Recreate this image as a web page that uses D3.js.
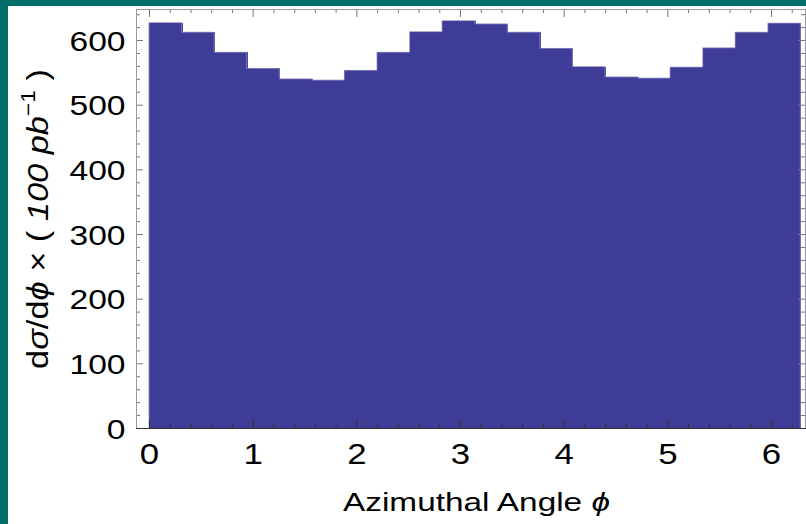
<!DOCTYPE html>
<html>
<head>
<meta charset="utf-8">
<script src="https://cdn.jsdelivr.net/npm/d3@7"></script>
<style>
  html, body { margin: 0; padding: 0; background: #fff; }
  svg { display: block; }
  text { font-family: "Liberation Sans", Arial, Helvetica, sans-serif; fill: #000; }
</style>
</head>
<body>
<svg id="chart" width="806" height="524"></svg>
<script>
// Azimuthal distribution, 20 equal bins spanning 0 .. 2π
const binCount = 20;
const binValues = [627, 612, 581, 556, 540, 538, 553, 581, 613, 630,
                   625, 612, 587, 559, 543, 541, 558, 588, 612, 626];
const xTickValues = [0, 1, 2, 3, 4, 5, 6];
const yTickValues = [0, 100, 200, 300, 400, 500, 600];
const xLabel = "Azimuthal Angle ";
const xLabelSymbol = "\u03D5";

const W = 806, H = 524;
const frame = { left: 136, right: 806, top: 9, bottom: 428 };
const labelStretch = 1.2;   // wide lettering of the tick labels

const svg = d3.select("#chart");

// Teal page border along the left and top
svg.append("rect").attr("x", 0).attr("y", 0).attr("width", W).attr("height", 6).attr("fill", "#006d69");
svg.append("rect").attr("x", 0).attr("y", 0).attr("width", 8).attr("height", H).attr("fill", "#006d69");

const x = d3.scaleLinear().domain([-0.1254, 6.3375]).range([frame.left, frame.right]);
const y = d3.scaleLinear().domain([0, 648]).range([frame.bottom, frame.top]);

const binWidth = 2 * Math.PI / binCount;
const bins = binValues.map((v, i) => ({ x0: i * binWidth, x1: (i + 1) * binWidth, v }));

// Histogram bars
svg.append("g")
  .attr("shape-rendering", "crispEdges")
  .selectAll("rect")
  .data(bins)
  .join("rect")
  .attr("x", d => x(d.x0))
  .attr("y", d => y(d.v))
  .attr("width", d => x(d.x1) - x(d.x0) + 1)
  .attr("height", d => y(0) - y(d.v))
  .attr("fill", "#3f3c98");

// Lighter outline along the stepped top edge
const step = [];
step.push([x(bins[0].x0), y(0)]);
bins.forEach(d => { step.push([x(d.x0), y(d.v)]); step.push([x(d.x1), y(d.v)]); });
step.push([x(bins[bins.length - 1].x1), y(0)]);
svg.append("path")
  .attr("d", d3.line()(step))
  .attr("fill", "none")
  .attr("stroke", "#8a88c2")
  .attr("stroke-width", 0.8);

// Frame axes with inward ticks on all four sides
const xMinor = d3.range(0, 6.31, 0.2).map(v => +v.toFixed(2)).filter(v => !xTickValues.includes(v));
const yMinor = d3.range(0, 641, 20).filter(v => v % 100 !== 0);

function drawAxis(axis, transform, color) {
  const g = svg.append("g").attr("transform", transform).call(axis);
  g.select(".domain").remove();
  g.selectAll("line").attr("stroke", color).attr("stroke-width", 1);
  return g;
}

// bottom
drawAxis(d3.axisBottom(x).tickValues(xMinor).tickSize(-4).tickFormat(""), `translate(0,${frame.bottom})`, "#333");
const gxb = drawAxis(d3.axisBottom(x).tickValues(xTickValues).tickSize(-8).tickFormat(d3.format("d")),
  `translate(0,${frame.bottom})`, "#333");
gxb.selectAll("text")
  .attr("font-size", 29).attr("fill", "#000")
  .attr("x", 0).attr("y", 0).attr("dy", 0)
  .attr("text-anchor", "middle")
  .attr("transform", `translate(0,36) scale(${labelStretch},1)`);
// top
drawAxis(d3.axisTop(x).tickValues(xMinor).tickSize(-4).tickFormat(""), `translate(0,${frame.top})`, "#777");
drawAxis(d3.axisTop(x).tickValues(xTickValues).tickSize(-8).tickFormat(""), `translate(0,${frame.top})`, "#777");
// left
drawAxis(d3.axisLeft(y).tickValues(yMinor).tickSize(-4).tickFormat(""), `translate(${frame.left},0)`, "#777");
const gyl = drawAxis(d3.axisLeft(y).tickValues(yTickValues).tickSize(-7).tickFormat(d3.format("d")),
  `translate(${frame.left},0)`, "#777");
gyl.selectAll("text")
  .attr("font-size", 28).attr("fill", "#000")
  .attr("x", 0).attr("dy", "0.36em")
  .attr("text-anchor", "end")
  .attr("transform", `translate(-10.5,0) scale(${labelStretch},1)`);
// right
drawAxis(d3.axisRight(y).tickValues(yMinor).tickSize(-4).tickFormat(""), `translate(${frame.right - 1},0)`, "#777");
drawAxis(d3.axisRight(y).tickValues(yTickValues).tickSize(-7).tickFormat(""), `translate(${frame.right - 1},0)`, "#777");

// Frame lines
svg.append("line").attr("x1", frame.left).attr("x2", frame.right).attr("y1", frame.top + 0.5).attr("y2", frame.top + 0.5).attr("stroke", "#999");
svg.append("line").attr("x1", frame.left + 0.5).attr("x2", frame.left + 0.5).attr("y1", frame.top).attr("y2", frame.bottom).attr("stroke", "#999");
svg.append("line").attr("x1", frame.left).attr("x2", frame.right).attr("y1", frame.bottom + 0.5).attr("y2", frame.bottom + 0.5).attr("stroke", "#333");
svg.append("line").attr("x1", frame.right - 0.5).attr("x2", frame.right - 0.5).attr("y1", frame.top).attr("y2", frame.bottom).attr("stroke", "#999");

// Stretch a label (in its own frame) so it spans the given length
function fitLength(textSel, target) {
  const len = textSel.node().getComputedTextLength();
  return target / len;
}

// X axis title, spanning about 343..610
const xtG = svg.append("g");
const xt = xtG.append("text")
  .attr("x", 0).attr("y", 0)
  .attr("text-anchor", "middle")
  .attr("font-size", 25);
xt.append("tspan").text(xLabel);
xt.append("tspan").attr("font-style", "italic").text(xLabelSymbol);
xtG.attr("transform", `translate(476.5,511) scale(${fitLength(xt, 267)},1)`);

// Y axis title, spanning about 68..370 vertically
const ytG = svg.append("g");
const yt = ytG.append("text")
  .attr("x", 0).attr("y", 0)
  .attr("text-anchor", "middle")
  .attr("font-size", 30);
yt.append("tspan").text("d");
yt.append("tspan").attr("font-style", "italic").text("\u03C3");
yt.append("tspan").text("/d");
yt.append("tspan").attr("font-style", "italic").text("\u03D5");
yt.append("tspan").text(" \u00D7 ( ");
yt.append("tspan").attr("font-style", "italic").text("100 pb");
yt.append("tspan").attr("font-size", 20).attr("dy", -13).text("\u22121");
yt.append("tspan").attr("dy", 13).text(" )");
ytG.attr("transform", `translate(48,219) rotate(-90) scale(${fitLength(yt, 300)},1)`);
</script>
</body>
</html>
